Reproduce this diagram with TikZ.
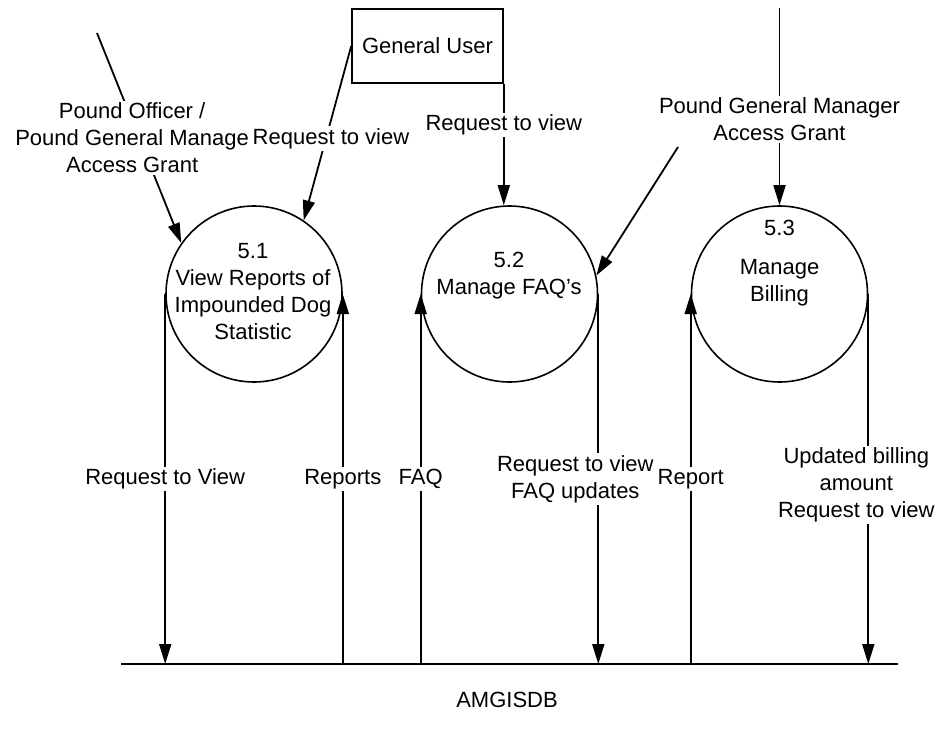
\documentclass[tikz,border=0pt]{standalone}
\usepackage{fontspec}
\setmainfont{Liberation Sans}
\usetikzlibrary{arrows.meta,positioning}

\tikzset{
  proceso/.style={draw, circle, line width=0.8pt, minimum size=88pt, inner sep=0pt},
  entidad/.style={draw, rectangle, line width=0.8pt, minimum width=75.5pt, minimum height=37pt},
  flujo/.style={line width=0.9pt, -{Triangle[length=10pt,width=6pt]}},
  etiqueta/.style={fill=white, inner sep=1pt, align=center},
  texto/.style={align=center, inner sep=0pt}
}

\begin{document}
\begin{tikzpicture}[x=5pt, y=5pt, font=\fontsize{11}{13.5}\selectfont]

    \useasboundingbox (0,0) rectangle (94,73.6);

    % Procesos
    \node[proceso] (p51) at (25.4,44.2) {};
    \node[proceso] (p52) at (50.95,44.2) {};
    \node[proceso] (p53) at (77.95,44.2) {};
    \node[texto] (t51) at (25.3,44.4) {5.1\\View Reports of\\Impounded Dog\\Statistic};
    \node[texto] (t52) at (50.9,46.0) {5.2\\Manage FAQ's};
    \node[texto] (t53) at (77.95,47.3) {5.3\\[6pt]Manage\\Billing};

    % Entidad externa
    \node[entidad] (gu) at (42.75,69.0) {General User};

    % Almacen de datos
    \coordinate (dbi) at (12.1,7.2);
    \coordinate (dbd) at (89.8,7.2);
    \draw[line width=1.4pt] (dbi) -- (dbd);
    \node (db) at (50.7,3.6) {AMGISDB};

    % Flujos de entrada
    \coordinate (po) at (9.7,70.3);
    \draw[flujo] (po) -- node[etiqueta, xshift=-3.5pt] {Pound Officer /\\Pound General Manage\\Access Grant} (p51.145);
    \draw[flujo] (gu.west) -- node[etiqueta, pos=0.53, xshift=2.5pt] {Request to view} (p51.56);
    \draw[flujo] (gu.south east) -- node[etiqueta, pos=0.34] {Request to view} (gu.south east |- p52.north);

    \coordinate (pgm) at (77.95,72.8);
    \draw[flujo] (pgm) -- node[etiqueta, pos=0.566] {Pound General Manager\\Access Grant} (p53.north);
    \coordinate (pgm2) at (67.8,58.9);
    \draw[flujo] (pgm2) -- (p52.12);

    % Flujos con el almacen
    \draw[flujo] (p51.west) -- node[etiqueta] {Request to View} (p51.west |- dbi);
    \draw[flujo] (p51.east |- dbi) -- node[etiqueta] {Reports} (p51.east);
    \draw[flujo] (p52.west |- dbi) -- node[etiqueta] {FAQ} (p52.west);
    \draw[flujo] (p52.east) -- node[etiqueta, xshift=-11.5pt] {Request to view\\FAQ updates} (p52.east |- dbi);
    \draw[flujo] (p53.west |- dbi) -- node[etiqueta] {Report} (p53.west);
    \draw[flujo] (p53.east) -- node[etiqueta, xshift=-6pt, yshift=-3pt] {Updated billing\\amount\\Request to view} (p53.east |- dbi);

\end{tikzpicture}
\end{document}
